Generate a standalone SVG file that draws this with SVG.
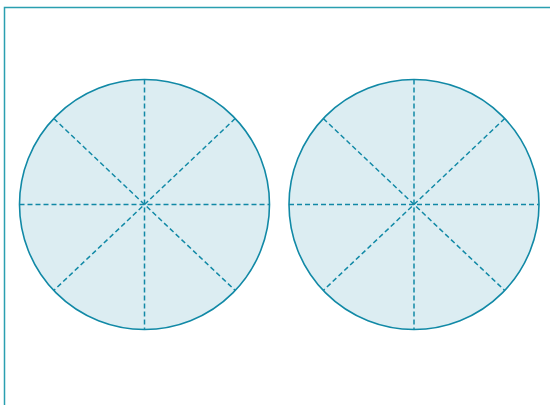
<svg xmlns="http://www.w3.org/2000/svg" width="550" height="405" viewBox="0 0 550 405">
<style>
.frame{fill:none;stroke:#2a9fb0;stroke-width:1.5}
.disc{fill:#dcedf2;stroke:#1189a6;stroke-width:1.6}
.div{stroke:#1189a6;stroke-width:1.5;stroke-dasharray:5 3;fill:none}
</style>
<rect width="550" height="405" fill="#ffffff"/>
<path class="frame" d="M4.5,405 V7.5 H550"/>
<g id="circle1">
<circle class="disc" cx="144.5" cy="204.5" r="125"/>
<g class="div">
<line x1="144.5" y1="79.5" x2="144.5" y2="329.5"/>
<line x1="19.5" y1="204.5" x2="269.5" y2="204.5"/>
<line x1="53.8" y1="118.5" x2="235.2" y2="290.5"/>
<line x1="235.2" y1="118.5" x2="53.8" y2="290.5"/>
</g>
</g>
<g id="circle2">
<circle class="disc" cx="414" cy="204.5" r="125"/>
<g class="div">
<line x1="414" y1="79.5" x2="414" y2="329.5"/>
<line x1="289" y1="204.5" x2="539" y2="204.5"/>
<line x1="323.3" y1="118.5" x2="504.7" y2="290.5"/>
<line x1="504.7" y1="118.5" x2="323.3" y2="290.5"/>
</g>
</g>
</svg>
